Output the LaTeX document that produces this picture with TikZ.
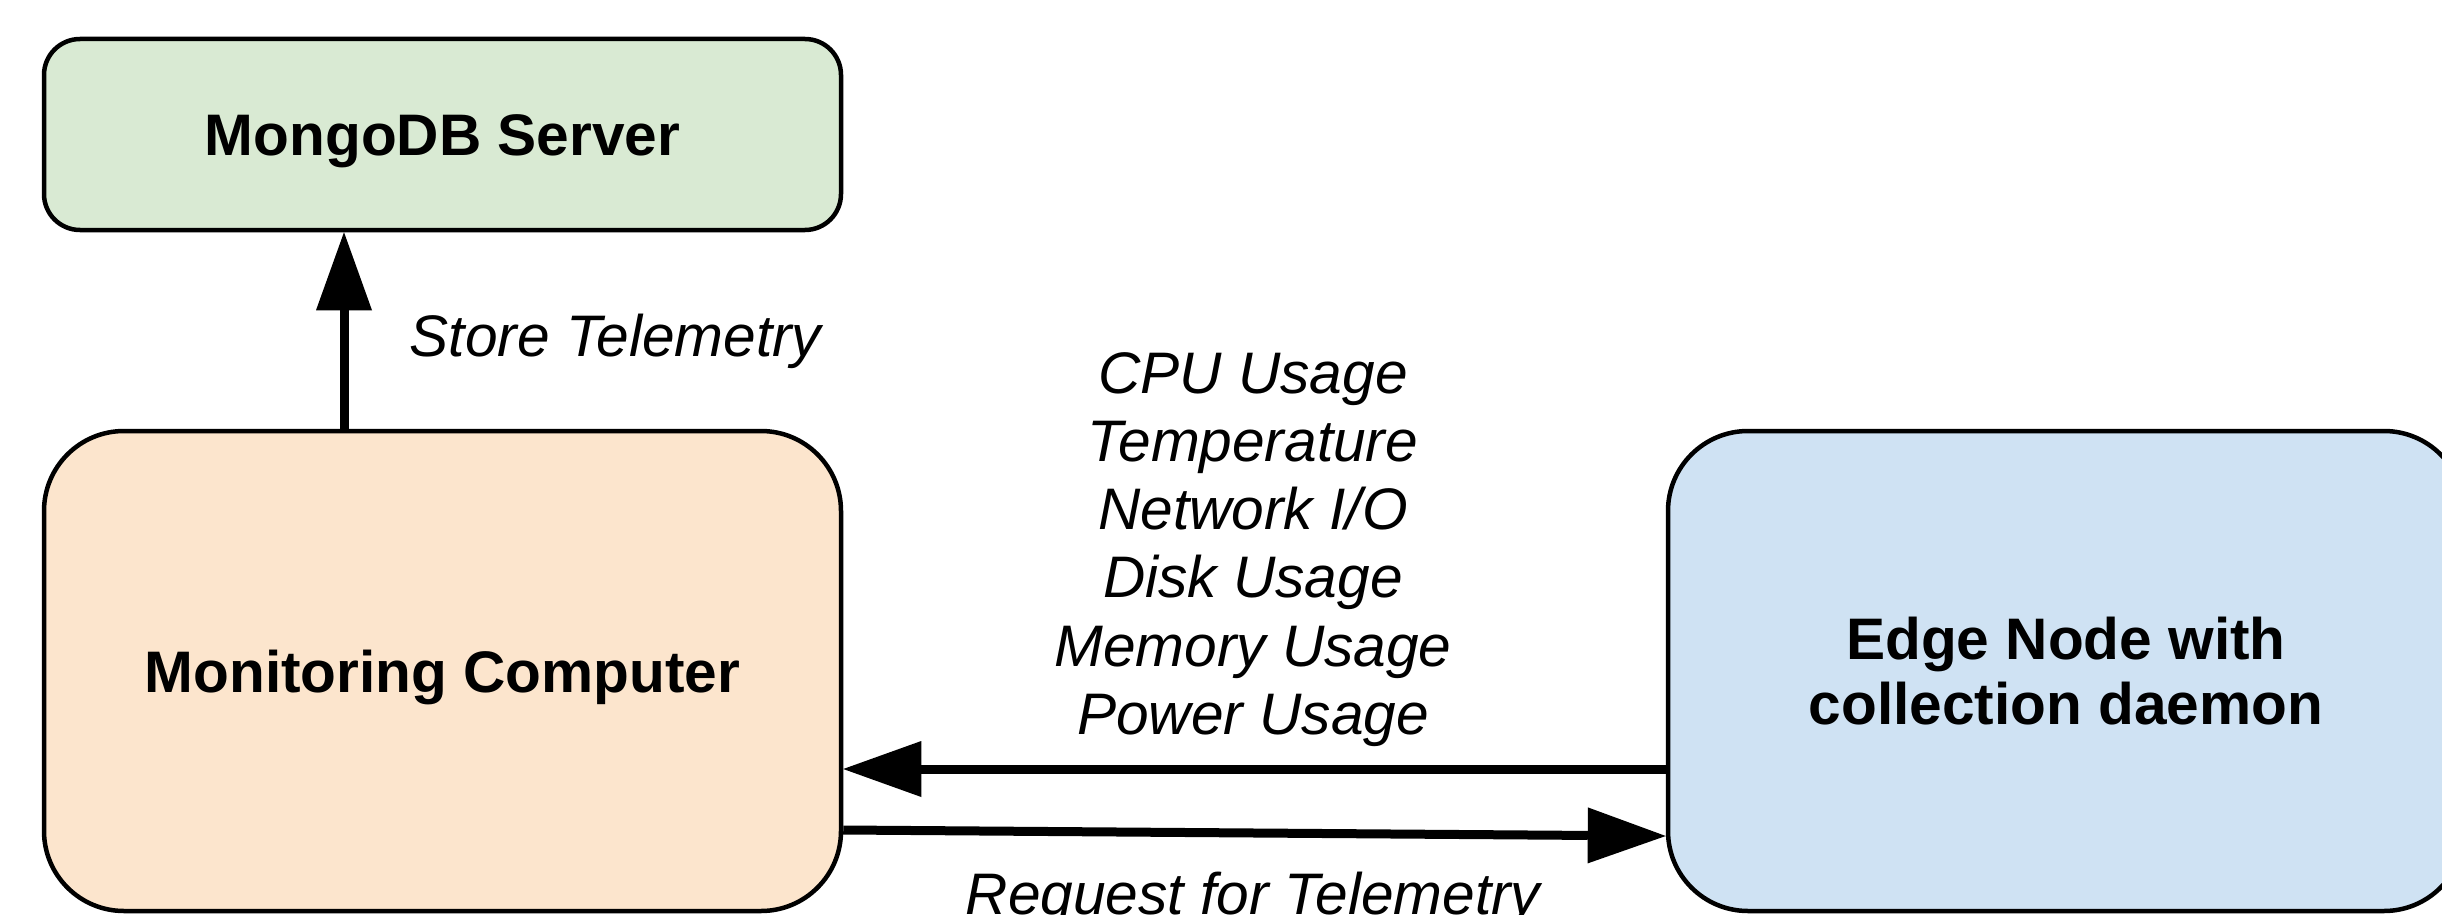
\documentclass[tikz,border=0pt]{standalone}
\usepackage{fontspec}
\setmainfont{Liberation Sans}
\usetikzlibrary{arrows.meta}
\definecolor{mongofill}{HTML}{D9EAD3}
\definecolor{monfill}{HTML}{FCE5CD}
\definecolor{edgefill}{HTML}{CFE2F3}
\begin{document}
\begin{tikzpicture}[x=0.5pt,y=-0.5pt,
  box/.style={draw=black, line width=2.25pt, align=center, inner sep=0pt,
    font=\bfseries\fontsize{29.3}{32.5}\selectfont},
  onebox/.style={box, text height=21pt, text depth=0pt},
  lab/.style={font=\itshape\fontsize{29.3}{34.1}\selectfont, align=center, inner sep=0pt},
  arr/.style={line width=4.5pt, -{Triangle[length=39pt,width=28pt,line width=0pt]}}]
\useasboundingbox (0,0) rectangle (2442,915);

\node[onebox, fill=mongofill, rounded corners=18pt, minimum width=398.5pt, minimum height=95.5pt]
  (mongo) at (442.5,134.5) {MongoDB Server};
\node[onebox, fill=monfill, rounded corners=40pt, minimum width=398.5pt, minimum height=240pt]
  (mon) at (442.5,671) {Monitoring Computer};
\node[box, fill=edgefill, rounded corners=40pt, minimum width=398pt, minimum height=240pt]
  (edge) at (2066,671) {Edge Node with\\collection daemon};

\coordinate (upx) at (344,0);
\coordinate (ya) at (0,769);
\coordinate (yb1) at (0,830);
\coordinate (yb2) at (0,836);

\draw[arr] (mon.north -| upx) -- (mongo.south -| upx);
\draw[arr] (edge.west |- ya) -- (mon.east |- ya);
\draw[arr] (mon.east |- yb1) -- (edge.west |- yb2);

\node[lab, anchor=base] (store) at (615.5,356.5) {Store Telemetry};
\node[lab] (metrics) at (1253,549.5) {CPU Usage\\Temperature\\Network I/O\\Disk Usage\\Memory Usage\\Power Usage};
\node[lab, anchor=base] (req) at (1253,914) {Request for Telemetry};
\end{tikzpicture}
\end{document}
